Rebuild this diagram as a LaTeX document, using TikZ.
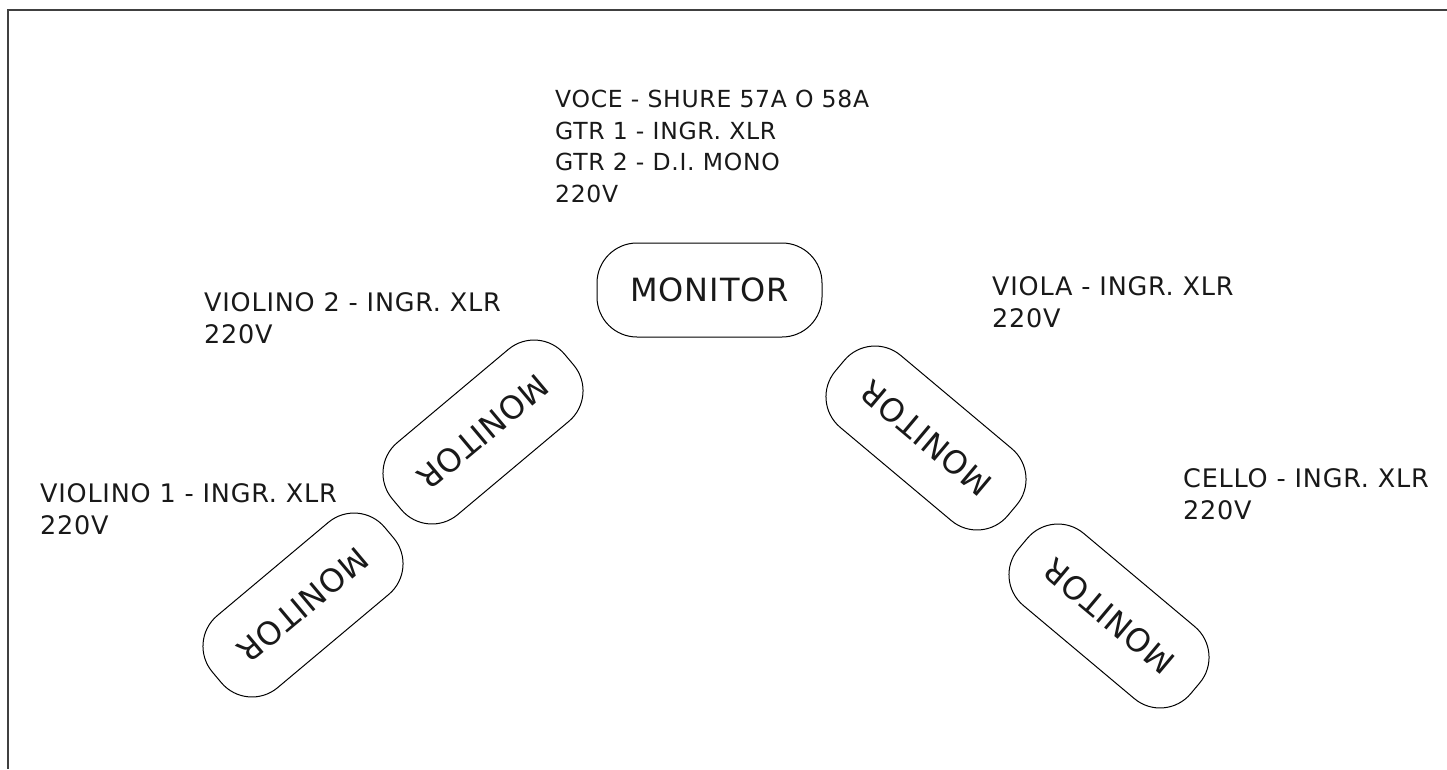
\documentclass[tikz,border=0pt]{standalone}
\usepackage{fontspec}
\setmainfont{DejaVu Sans}
\newfontfamily\lblfont[LetterSpace=3]{DejaVu Sans}
\begin{document}
\begin{tikzpicture}[x=1pt,y=-1pt,
  monitorbox/.style={draw=black, line width=1pt, rounded corners=40pt,
    minimum width=225pt, minimum height=94pt, inner sep=0pt,
    font=\lblfont\fontsize{32}{36}\selectfont, text=black!90},
  lbl/.style={anchor=north west, inner sep=0pt, align=left,
    font=\lblfont\fontsize{25.5}{31.5}\selectfont, text=black!90},
  lblsmall/.style={lbl, font=\lblfont\fontsize{23.5}{31.7}\selectfont},
  frame/.style={draw=black!75, line width=2pt}]
\useasboundingbox (0,0) rectangle (1447,769);
\fill[white] (0,0) rectangle (1447,769);
\draw[frame] (1447,10) -- (8,10) -- (8,769);

\node[lblsmall] (lvoce) at (555,89.9) {VOCE - SHURE 57A O 58A\\GTR 1 - INGR. XLR\\GTR 2 - D.I. MONO\\220V};
\node[lbl] (lvl2) at (204,292.4) {VIOLINO 2 - INGR. XLR\\220V};
\node[lbl] (lvla) at (992,276.4) {VIOLA - INGR. XLR\\220V};
\node[lbl] (lvl1) at (40,483.4) {VIOLINO 1 - INGR. XLR\\220V};
\node[lbl] (lcel) at (1183,468.4) {CELLO - INGR. XLR\\220V};

\node[monitorbox] (m0) at (709.5,290) {MONITOR};
\node[monitorbox, rotate=220] (mv2) at (483,432) {MONITOR};
\node[monitorbox, rotate=220] (mv1) at (303,605) {MONITOR};
\node[monitorbox, rotate=140] (mva) at (926,438) {MONITOR};
\node[monitorbox, rotate=140] (mce) at (1109,616) {MONITOR};
\end{tikzpicture}
\end{document}
